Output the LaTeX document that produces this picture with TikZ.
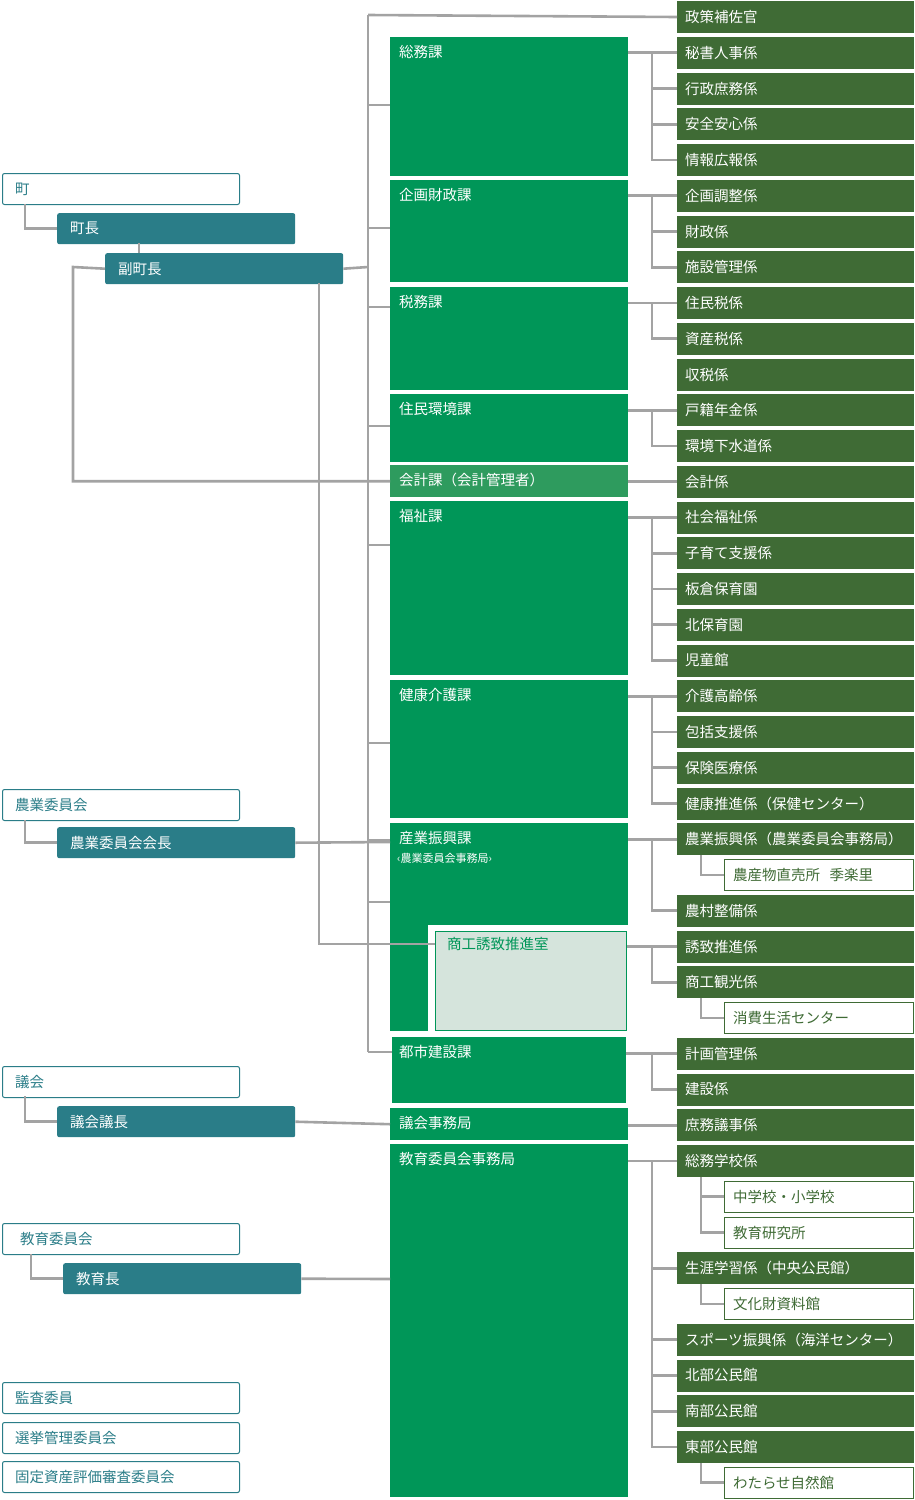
\documentclass[tikz,border=0pt]{standalone}
\usepackage{fontspec}
\setmainfont{Noto Sans CJK JP}
\begin{document}
\begin{tikzpicture}[x=1pt,y=-1pt,
  conn/.style={draw=lineg,line width=2.6pt},
  sect/.style={fill=secg,text=white,anchor=west,minimum width=237,minimum height=32,text width=221,align=left,inner sep=0pt,font=\fontsize{14.5}{16}\selectfont},
  sub/.style={fill=white,draw=secg,line width=1pt,text=secg,anchor=west,minimum width=189,minimum height=31,text width=172,align=left,inner sep=0pt,font=\fontsize{14.5}{16}\selectfont},
  dept/.style={fill=depg,anchor=north west,inner sep=0pt,minimum width=238},
  dlab/.style={anchor=north west,text=white,inner sep=0pt,font=\fontsize{14.5}{16}\selectfont},
  tealb/.style={fill=teal1,rounded corners=2pt,anchor=north west,minimum width=238,minimum height=31,inner sep=0pt},
  whb/.style={fill=white,draw=teal1,line width=1pt,rounded corners=2pt,anchor=north west,minimum width=237,minimum height=31,inner sep=0pt},
  tlab/.style={anchor=west,inner sep=0pt,font=\fontsize{14.5}{16}\selectfont}]
\definecolor{secg}{HTML}{3F6B35}
\definecolor{depg}{HTML}{009658}
\definecolor{accg}{HTML}{2E9B5E}
\definecolor{lineg}{HTML}{A3A3A3}
\definecolor{teal1}{HTML}{2A7D88}
\definecolor{paleg}{HTML}{D5E4DC}
\useasboundingbox (0,0) rectangle (915,1500);
% lines behind
\draw[conn] (368,15) -- (368,1052);
% right rows
\foreach \i/\t/\k in {0/政策補佐官/g,1/秘書人事係/g,2/行政庶務係/g,3/安全安心係/g,4/情報広報係/g,5/企画調整係/g,6/財政係/g,7/施設管理係/g,8/住民税係/g,9/資産税係/g,10/収税係/g,11/戸籍年金係/g,12/環境下水道係/g,13/会計係/g,14/社会福祉係/g,15/子育て支援係/g,16/板倉保育園/g,17/北保育園/g,18/児童館/g,19/介護高齢係/g,20/包括支援係/g,21/保険医療係/g,22/健康推進係（保健センター）/g,23/農業振興係（農業委員会事務局）/g,24/農産物直売所\ \ 季楽里/w,25/農村整備係/g,26/誘致推進係/g,27/商工観光係/g,28/消費生活センター/w,29/計画管理係/g,30/建設係/g,31/庶務議事係/g,32/総務学校係/g,33/中学校・小学校/w,34/教育研究所/w,35/生涯学習係（中央公民館）/g,36/文化財資料館/w,37/スポーツ振興係（海洋センター）/g,38/北部公民館/g,39/南部公民館/g,40/東部公民館/g,41/わたらせ自然館/w}{
  \pgfmathsetmacro\yy{17+35.75*\i}
  \if\k g\node[sect] (r\i) at (677,\yy) {\t};\else\node[sub] (r\i) at (724,\yy) {\t};\fi
}
% departments
\node[dept,minimum height=139] (d1) at (390,37) {};
\node[dept,minimum height=102] (d2) at (390,180) {};
\node[dept,minimum height=103] (d3) at (390,287) {};
\node[dept,minimum height=68] (d4) at (390,394) {};
\node[dept,fill=accg,minimum height=32] (d5) at (390,465) {};
\node[dept,minimum height=174] (d6) at (390,501) {};
\node[dept,minimum height=138] (d7) at (390,680) {};
\node[dept,minimum height=102] (d8) at (390,823) {};
\node[dept,minimum width=38,minimum height=208] (d8s) at (390,823) {};
\node[dept,minimum width=234,minimum height=66] (d9) at (392,1037) {};
\node[dept,minimum height=32] (d10) at (390,1108) {};
\node[dept,minimum height=353] (d11) at (390,1144) {};
% connectors main trunk
\draw[conn] (368,15) -- (r0.west);
\foreach \d/\y in {d1/105,d2/228,d3/307,d4/426,d6/545,d7/743,d8/840,d8/902}{\draw[conn] (368,\y) -- (\d.west|-0,\y);}
\draw[conn] (368,1052) -- (d9.west|-0,1052);
% section links
\newcommand\grp[3]{\draw[conn] (#1.east|-r#2.west) -- (r#2.west); \draw[conn] ([xshift=-25]r#2.west) |- (r#3.west);}
\grp{d1}{1}{4}\foreach \j in {2,3}{\draw[conn] ([xshift=-25]r\j.west) -- (r\j.west);}
\grp{d2}{5}{7}\draw[conn] ([xshift=-25]r6.west) -- (r6.west);
\grp{d3}{8}{9}
\grp{d4}{11}{12}
\draw[conn] (d5.east|-r13.west) -- (r13.west);
\grp{d6}{14}{18}\foreach \j in {15,16,17}{\draw[conn] ([xshift=-25]r\j.west) -- (r\j.west);}
\grp{d7}{19}{22}\foreach \j in {20,21}{\draw[conn] ([xshift=-25]r\j.west) -- (r\j.west);}
\grp{d8}{23}{25}
\draw[conn] ([xshift=24]r23.south west) |- (r24.west);
\grp{d9}{29}{30}
\draw[conn] (d10.east|-r31.west) -- (r31.west);
\grp{d11}{32}{40}\foreach \j in {35,37,38,39}{\draw[conn] ([xshift=-25]r\j.west) -- (r\j.west);}
\draw[conn] ([xshift=24]r32.south west) |- (r34.west);
\draw[conn] ([xshift=24]r32.south west) |- (r33.west);
\draw[conn] ([xshift=24]r35.south west) |- (r36.west);
\draw[conn] ([xshift=24]r40.south west) |- (r41.west);
% left column
\node[whb] (m0) at (2,173) {};
\node[tealb] (m1) at (57,213) {};
\node[tealb] (m2) at (105,253) {};
\draw[conn] (25,204) |- (m1.west);
\draw[conn] (139,243) -- (139,253);
\draw[conn] (m2.east) -- (368,267);
\draw[conn] (m2.west) -- (73,267) |- (d5.west);
\draw[conn] (319,283) -- (319,944) -- (435,944);
\node[whb] (n0) at (2,789) {};
\node[tealb] (n1) at (57,827) {};
\draw[conn] (25,820) |- (n1.west);
\draw[conn] (n1.east) -- (390,842);
\node[whb] (g0) at (2,1066) {};
\node[tealb] (g1) at (57,1106) {};
\draw[conn] (25,1096) |- (g1.west);
\draw[conn] (g1.east) -- (d10.west);
\node[whb] (e0) at (2,1223) {};
\node[tealb] (e1) at (63,1263) {};
\draw[conn] (31,1254) |- (e1.west);
\draw[conn] (e1.east) -- (390,1279);
\node[whb] (k1) at (2,1382) {};
\node[whb] (k2) at (2,1422) {};
\node[whb] (k3) at (2,1461) {};
% 商工誘致推進室
\node[draw=depg,fill=paleg,line width=1pt,anchor=north west,minimum width=191,minimum height=99,inner sep=0pt] (s1) at (435,931) {};
\draw[conn] (s1.east|-r26.west) -- (r26.west);
\draw[conn] ([xshift=-25]r26.west) |- (r27.west);
\draw[conn] ([xshift=24]r27.south west) |- (r28.west);
\draw[conn] (319,944) -- (s1.west|-0,944);
% labels
\foreach \n/\t in {d1/総務課,d2/企画財政課,d3/税務課,d4/住民環境課,d6/福祉課,d7/健康介護課,d8/産業振興課,d10/議会事務局,d11/教育委員会事務局}{\node[dlab] at ([shift={(9,8)}]\n.north west) {\t};}
\node[dlab] at ([shift={(9,8)}]d5.north west) {会計課（会計管理者）};
\node[dlab] at ([shift={(7,8)}]d9.north west) {都市建設課};
\node[dlab,font=\fontsize{11}{13}\selectfont] at ([shift={(7,30)}]d8.north west) {‹農業委員会事務局›};
\node[dlab,text=depg] at ([shift={(12,6)}]s1.north west) {商工誘致推進室};
\node[tlab,text=teal1] at ([xshift=13]m0.west) {町};
\node[tlab,text=white] at ([xshift=13]m1.west) {町長};
\node[tlab,text=white] at ([xshift=13]m2.west) {副町長};
\node[tlab,text=teal1] at ([xshift=13]n0.west) {農業委員会};
\node[tlab,text=white] at ([xshift=13]n1.west) {農業委員会会長};
\node[tlab,text=teal1] at ([xshift=13]g0.west) {議会};
\node[tlab,text=white] at ([xshift=13]g1.west) {議会議長};
\node[tlab,text=teal1] at ([xshift=18]e0.west) {教育委員会};
\node[tlab,text=white] at ([xshift=13]e1.west) {教育長};
\node[tlab,text=teal1] at ([xshift=13]k1.west) {監査委員};
\node[tlab,text=teal1] at ([xshift=13]k2.west) {選挙管理委員会};
\node[tlab,text=teal1] at ([xshift=13]k3.west) {固定資産評価審査委員会};
\end{tikzpicture}
\end{document}
